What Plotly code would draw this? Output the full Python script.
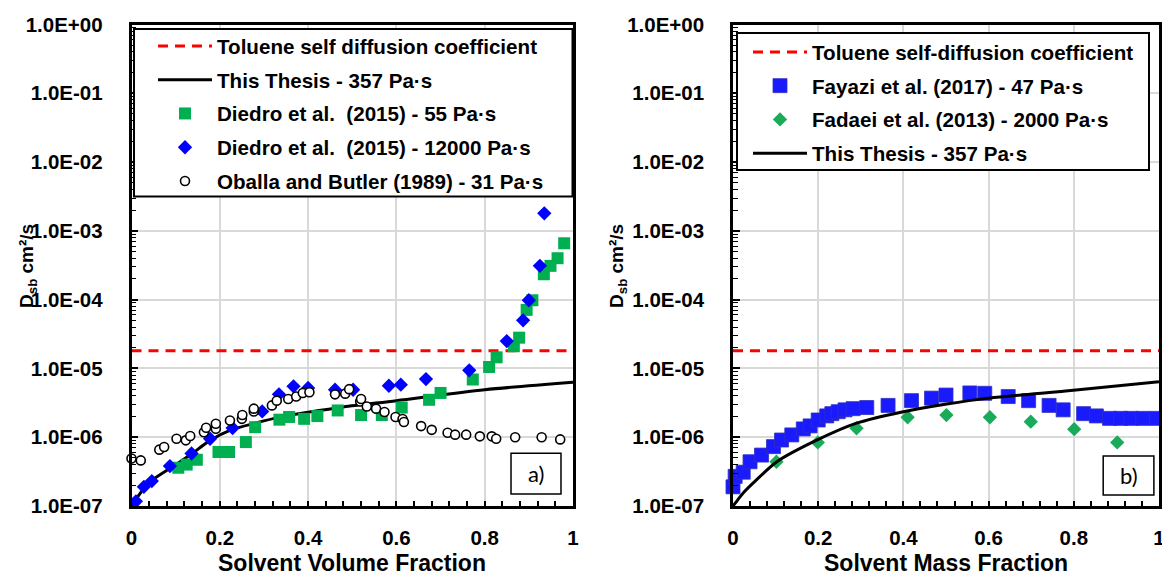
import plotly.graph_objects as go

FONT = "Liberation Sans"

# ---------------- data: left panel (solvent volume fraction) ----------------
toluene_x = [0, 1]
toluene_y = [1.8e-5, 1.8e-5]

thesis_vol_x = [0, 0.01, 0.028, 0.046, 0.098, 0.136, 0.178, 0.223, 0.28, 0.336, 0.40, 0.48, 0.60, 0.80, 1.0]
thesis_vol_y = [1.0e-7, 1.25e-7, 1.8e-7, 2.35e-7, 3.9e-7, 5.7e-7, 9.0e-7, 1.26e-6, 1.6e-6, 1.96e-6,
                2.3e-6, 2.75e-6, 3.4e-6, 4.9e-6, 6.3e-6]

diedro55_x = [0.106, 0.125, 0.148, 0.197, 0.221, 0.259, 0.280, 0.335, 0.357, 0.391, 0.421, 0.467, 0.520,
              0.567, 0.612, 0.674, 0.700, 0.773, 0.810, 0.827, 0.866, 0.878, 0.895, 0.908, 0.934, 0.949,
              0.965, 0.980]
diedro55_y = [3.6e-7, 4.0e-7, 4.7e-7, 6.1e-7, 6.1e-7, 8.5e-7, 1.4e-6, 1.8e-6, 1.97e-6, 1.85e-6, 2.03e-6,
              2.45e-6, 2.1e-6, 2.1e-6, 2.7e-6, 3.5e-6, 4.4e-6, 6.9e-6, 1.05e-5, 1.45e-5, 2.1e-5, 2.8e-5,
              7.1e-5, 9.8e-5, 2.34e-4, 3.1e-4, 4.0e-4, 6.6e-4]

diedro12000_x = [0.010, 0.028, 0.046, 0.087, 0.136, 0.178, 0.229, 0.296, 0.334, 0.367, 0.400, 0.461, 0.502,
                 0.583, 0.610, 0.667, 0.765, 0.850, 0.887, 0.900, 0.925, 0.935]
diedro12000_y = [1.17e-7, 1.9e-7, 2.3e-7, 3.8e-7, 5.8e-7, 9.5e-7, 1.36e-6, 2.37e-6, 4.2e-6, 5.5e-6, 5.2e-6,
                 4.9e-6, 4.9e-6, 5.6e-6, 5.8e-6, 7.0e-6, 9.4e-6, 2.5e-5, 5.0e-5, 9.8e-5, 3.1e-4, 1.8e-3]

oballa_x = [0.0, 0.021, 0.063, 0.074, 0.102, 0.123, 0.133, 0.164, 0.169, 0.191, 0.191, 0.223, 0.250, 0.251,
            0.277, 0.277, 0.318, 0.329, 0.355, 0.373, 0.388, 0.403, 0.461, 0.484, 0.493, 0.518, 0.520,
            0.533, 0.554, 0.573, 0.598, 0.614, 0.617, 0.656, 0.680, 0.716, 0.733, 0.758, 0.789, 0.816,
            0.826, 0.869, 0.929, 0.971]
oballa_y = [4.9e-7, 4.6e-7, 6.6e-7, 7.2e-7, 9.5e-7, 9.0e-7, 1.04e-6, 1.18e-6, 1.37e-6, 1.33e-6, 1.57e-6,
            1.75e-6, 1.85e-6, 2.1e-6, 2.37e-6, 2.6e-6, 2.9e-6, 3.4e-6, 3.6e-6, 3.9e-6, 4.4e-6, 4.5e-6,
            4.2e-6, 4.3e-6, 5.0e-6, 3.3e-6, 3.6e-6, 2.8e-6, 2.6e-6, 2.32e-6, 1.97e-6, 1.84e-6, 1.66e-6,
            1.45e-6, 1.28e-6, 1.16e-6, 1.09e-6, 1.09e-6, 1.03e-6, 1.03e-6, 9.5e-7, 1.0e-6, 1.0e-6, 9.3e-7]

# ---------------- data: right panel (solvent mass fraction) ----------------
fayazi_x = [0.0, 0.005, 0.024, 0.040, 0.067, 0.095, 0.114, 0.138, 0.165, 0.181, 0.200, 0.220, 0.232, 0.247,
            0.263, 0.282, 0.314, 0.364, 0.419, 0.466, 0.500, 0.556, 0.591, 0.646, 0.694, 0.742, 0.775,
            0.823, 0.853, 0.884, 0.910, 0.934, 0.962, 0.994]
fayazi_y = [1.9e-7, 2.7e-7, 3.1e-7, 4.4e-7, 5.5e-7, 7.3e-7, 9.1e-7, 1.08e-6, 1.32e-6, 1.46e-6, 1.78e-6,
            2.04e-6, 2.2e-6, 2.35e-6, 2.5e-6, 2.6e-6, 2.7e-6, 2.9e-6, 3.4e-6, 3.7e-6, 4.1e-6, 4.4e-6,
            4.35e-6, 3.9e-6, 3.4e-6, 2.9e-6, 2.5e-6, 2.2e-6, 2.04e-6, 1.88e-6, 1.88e-6, 1.88e-6, 1.88e-6,
            1.88e-6]

fadaei_x = [0.102, 0.199, 0.290, 0.410, 0.501, 0.603, 0.699, 0.801, 0.902]
fadaei_y = [4.4e-7, 8.4e-7, 1.35e-6, 1.95e-6, 2.1e-6, 1.95e-6, 1.68e-6, 1.31e-6, 8.4e-7]

thesis_mass_x = [0, 0.01, 0.024, 0.052, 0.103, 0.199, 0.290, 0.397, 0.502, 0.601, 0.799, 1.0]
thesis_mass_y = [1.0e-7, 1.2e-7, 1.55e-7, 2.3e-7, 4.4e-7, 9.2e-7, 1.6e-6, 2.33e-6, 3.04e-6, 3.7e-6, 4.8e-6, 6.4e-6]

# ---------------- ticks ----------------
x_ticks = [0, 0.2, 0.4, 0.6, 0.8, 1]
x_ticklabels = ["0", "0.2", "0.4", "0.6", "0.8", "1"]
y_ticks = [1e-7, 1e-6, 1e-5, 1e-4, 1e-3, 1e-2, 1e-1, 1e0]
y_ticklabels = ["1.0E-07", "1.0E-06", "1.0E-05", "1.0E-04", "1.0E-03", "1.0E-02", "1.0E-01", "1.0E+00"]
y_minor = [m * 10.0 ** e for e in range(-7, 0) for m in range(2, 10)]

W, H = 1162, 577


def fx(px):
    return px / W


def fy(py):
    return 1 - py / H


red = "#FF0000"
green = "#00B050"
blue = "#0000FF"

fig = go.Figure()

# left panel
fig.add_trace(go.Scatter(x=toluene_x, y=toluene_y, mode="lines", name="Toluene self diffusion coefficient",
                         line=dict(color=red, width=3, dash="10px,7px"), legend="legend", legendgroup="a1"))
fig.add_trace(go.Scatter(x=thesis_vol_x, y=thesis_vol_y, mode="lines", name="This Thesis - 357 Pa·s",
                         line=dict(color="black", width=3, shape="spline", smoothing=0.8),
                         legend="legend", legendgroup="a2"))
fig.add_trace(go.Scatter(x=diedro55_x, y=diedro55_y, mode="markers", name="Diedro et al.  (2015) - 55 Pa·s",
                         marker=dict(symbol="square", size=12, color=green), cliponaxis=False,
                         legend="legend", legendgroup="a3"))
fig.add_trace(go.Scatter(x=diedro12000_x, y=diedro12000_y, mode="markers",
                         name="Diedro et al.  (2015) - 12000 Pa·s",
                         marker=dict(symbol="diamond", size=11, color=blue), cliponaxis=False,
                         legend="legend", legendgroup="a4"))
fig.add_trace(go.Scatter(x=oballa_x, y=oballa_y, mode="markers", name="Oballa and Butler (1989) - 31 Pa·s",
                         marker=dict(symbol="circle", size=9, color="white", line=dict(color="black", width=1.6)),
                         cliponaxis=False, legend="legend", legendgroup="a5"))

# right panel
fig.add_trace(go.Scatter(x=toluene_x, y=toluene_y, mode="lines", name="Toluene self-diffusion coefficient",
                         line=dict(color=red, width=3, dash="10px,7px"), xaxis="x2", yaxis="y2",
                         legend="legend2", legendgroup="b1"))
fig.add_trace(go.Scatter(x=fayazi_x, y=fayazi_y, mode="markers", name="Fayazi et al. (2017) - 47 Pa·s",
                         marker=dict(symbol="square", size=14, color="#1a1aff", line=dict(color="#3030c0", width=0.8)),
                         cliponaxis=False, xaxis="x2", yaxis="y2", legend="legend2", legendgroup="b2"))
fig.add_trace(go.Scatter(x=fadaei_x, y=fadaei_y, mode="markers", name="Fadaei et al. (2013) - 2000 Pa·s",
                         marker=dict(symbol="diamond", size=11, color="#19ab5a"),
                         cliponaxis=False, xaxis="x2", yaxis="y2", legend="legend2", legendgroup="b3"))
fig.add_trace(go.Scatter(x=thesis_mass_x, y=thesis_mass_y, mode="lines", name="This Thesis - 357 Pa·s",
                         line=dict(color="black", width=3, shape="spline", smoothing=0.8),
                         xaxis="x2", yaxis="y2", legend="legend2", legendgroup="b4"))

tickfont = dict(family=FONT, size=20.5, color="black", weight="bold")
xcommon = dict(range=[0, 1], tickmode="array", tickvals=x_ticks, ticktext=x_ticklabels,
               showgrid=True, gridcolor="#d9d9d9", gridwidth=1.5, zeroline=False,
               showline=True, linecolor="black", linewidth=2.5, mirror=True,
               ticks="inside", ticklen=5, tickwidth=1.5, tickcolor="black",
               minor=dict(dtick=0.04, tick0=0, ticks="inside", ticklen=5, tickwidth=1.5,
                          tickcolor="black", showgrid=False),
               tickfont=tickfont, ticklabelstandoff=12, ticklabeloverflow="allow", automargin=False)
ycommon = dict(type="log", range=[-7, 0], tickmode="array", tickvals=y_ticks, ticktext=y_ticklabels,
               showgrid=True, gridcolor="#d9d9d9", gridwidth=1.5, zeroline=False,
               showline=True, linecolor="black", linewidth=2.5, mirror=True,
               ticks="inside", ticklen=7, tickwidth=1.5, tickcolor="black",
               minor=dict(tickmode="array", tickvals=y_minor, ticks="inside", ticklen=5, tickwidth=1.2,
                          tickcolor="black", showgrid=False),
               tickfont=tickfont, ticklabelstandoff=22, ticklabeloverflow="allow", automargin=False,
               domain=[fy(506), fy(24.5)])

legfont = dict(family=FONT, size=20.6, color="black", weight="bold")
legcommon = dict(bgcolor="rgba(0,0,0,0)", borderwidth=0, font=legfont, itemwidth=54,
                 traceorder="grouped", tracegroupgap=4, xanchor="left", yanchor="top")

ann_font = dict(family=FONT, color="black", weight="bold")

fig.update_layout(
    width=W, height=H, margin=dict(l=0, r=0, t=0, b=0, autoexpand=False),
    plot_bgcolor="white", paper_bgcolor="white",
    xaxis=dict(xcommon, domain=[fx(131.5), fx(573)], anchor="y"),
    yaxis=dict(ycommon, anchor="x"),
    xaxis2=dict(xcommon, domain=[fx(733), fx(1159)], anchor="y2"),
    yaxis2=dict(ycommon, anchor="x2"),
    legend=dict(legcommon, x=fx(153), y=fy(26)),
    legend2=dict(legcommon, x=fx(748), y=fy(32)),
    shapes=[
        dict(type="rect", xref="paper", yref="paper", x0=fx(134), x1=fx(572.5), y0=fy(196.5), y1=fy(29),
             fillcolor="white", line=dict(color="black", width=2), layer="above"),
        dict(type="rect", xref="paper", yref="paper", x0=fx(737), x1=fx(1149), y0=fy(170), y1=fy(33),
             fillcolor="white", line=dict(color="black", width=2), layer="above"),
        dict(type="rect", xref="x domain", yref="y domain", x0=0.8596, x1=0.9728, y0=0.0248, y1=0.1097,
             fillcolor="white", line=dict(color="black", width=1.5), layer="above"),
        dict(type="rect", xref="x2 domain", yref="y2 domain", x0=0.869, x1=0.988, y0=0.0228, y1=0.104,
             fillcolor="white", line=dict(color="black", width=1.5), layer="above"),
    ],
    annotations=[
        dict(text="a)", xref="x domain", yref="y domain", x=0.9162, y=0.0672, showarrow=False,
             xanchor="center", yanchor="middle", font=dict(family="Lato", size=22, color="black")),
        dict(text="b)", xref="x2 domain", yref="y2 domain", x=0.9285, y=0.0634, showarrow=False,
             xanchor="center", yanchor="middle", font=dict(family="Lato", size=22, color="black")),
        dict(text="D<sub>sb</sub> cm²/s", xref="paper", yref="paper", x=fx(28), y=fy(266),
             xanchor="center", yanchor="middle", textangle=-90, showarrow=False, font=dict(ann_font, size=19)),
        dict(text="D<sub>sb</sub> cm²/s", xref="paper", yref="paper", x=fx(618), y=fy(266),
             xanchor="center", yanchor="middle", textangle=-90, showarrow=False, font=dict(ann_font, size=19)),
        dict(text="Solvent Volume Fraction", xref="paper", yref="paper", x=fx(352), y=fy(563),
             xanchor="center", yanchor="middle", showarrow=False, font=dict(ann_font, size=23)),
        dict(text="Solvent Mass Fraction", xref="paper", yref="paper", x=fx(946), y=fy(563),
             xanchor="center", yanchor="middle", showarrow=False, font=dict(ann_font, size=23)),
    ],
)

# drop the browser's default 8px page margin so the figure sits at the window origin
fig.write_html("out.html", config={"displayModeBar": False},
               post_script="document.body.style.margin = '0';")
